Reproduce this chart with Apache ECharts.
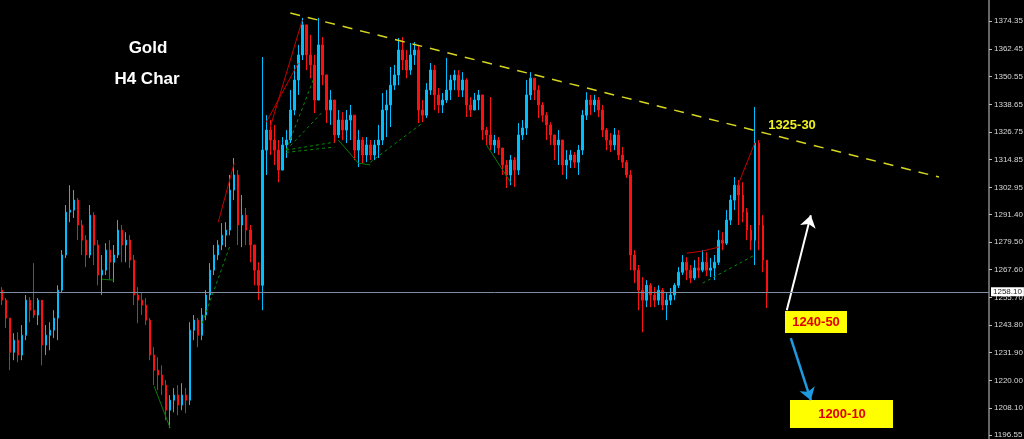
<!DOCTYPE html>
<html><head><meta charset="utf-8">
<script src="https://cdn.jsdelivr.net/npm/echarts@6/dist/echarts.min.js"></script>
<style>html,body{margin:0;padding:0;background:#000;}#c{width:1024px;height:439px;}</style>
</head><body><div id="c"></div>
<script>
// ---- data (Gold H4) ----
const firstOpen = 1258.8;
const closes = [
1254.5,1246.8,1232.1,1237.3,1230.9,1239.4,1254.5,1250.2,1248.1,1254.5,
1235.2,1239.4,1241.6,1246.8,1258.8,1273.9,1292.3,1293.2,1297.5,1286.8,
1280.3,1273.9,1291.0,1278.2,1265.3,1267.4,1276.0,1270.8,1273.9,1284.6,
1278.2,1280.3,1271.7,1256.7,1254.5,1252.4,1245.9,1230.9,1224.4,1222.3,
1218.0,1207.2,1211.5,1213.7,1209.4,1213.7,1211.5,1241.6,1245.9,1239.4,
1248.1,1256.7,1267.4,1273.9,1278.2,1282.4,1284.6,1301.8,1308.3,1286.8,
1291.0,1284.6,1278.2,1267.4,1260.9,1319.0,1327.6,1323.3,1319.0,1310.4,
1321.2,1323.3,1336.2,1349.1,1359.9,1372.8,1359.9,1355.6,1340.5,1364.2,
1351.3,1336.2,1340.5,1325.5,1331.9,1327.6,1331.9,1334.0,1319.0,1323.3,
1316.9,1321.2,1316.9,1321.2,1323.3,1336.2,1338.4,1346.9,1351.3,1362.0,
1357.7,1353.4,1359.9,1362.0,1336.2,1334.0,1344.8,1353.4,1342.7,1338.4,
1340.5,1344.8,1349.1,1351.3,1344.8,1349.1,1338.4,1336.2,1340.5,1342.7,
1327.6,1325.5,1321.2,1323.3,1319.9,1312.6,1308.3,1314.7,1310.4,1325.5,
1328.5,1342.7,1349.9,1344.8,1338.4,1334.0,1329.8,1325.5,1321.2,1323.3,
1312.6,1314.7,1316.9,1313.8,1319.0,1334.0,1340.5,1338.4,1340.5,1336.2,
1327.6,1323.3,1321.2,1325.5,1316.9,1313.8,1308.3,1273.9,1267.4,1258.8,
1254.5,1260.9,1256.7,1254.5,1258.8,1252.4,1254.5,1256.7,1260.9,1266.5,
1270.8,1267.4,1264.0,1268.3,1267.4,1270.8,1267.4,1268.3,1270.8,1280.3,
1279.0,1288.9,1297.5,1303.9,1299.7,1292.3,1284.6,1280.3,1322.0,1286.8,
1271.7,1258.1];
const highs = [
1260.1,1255.4,1245.9,1240.3,1240.7,1243.8,1256.7,1255.8,1270.4,1255.4,
1253.6,1243.8,1245.0,1250.2,1260.9,1276.0,1295.4,1303.9,1301.8,1298.4,
1288.9,1282.4,1295.4,1292.3,1280.3,1273.9,1279.0,1280.3,1278.2,1288.9,
1286.8,1283.7,1282.4,1273.9,1260.1,1257.5,1255.4,1246.8,1234.3,1230.0,
1226.5,1220.1,1213.7,1216.7,1218.0,1218.8,1216.7,1245.0,1248.1,1246.8,
1251.1,1258.8,1270.4,1278.2,1280.3,1287.6,1288.0,1308.3,1315.6,1310.4,
1299.7,1294.1,1286.8,1273.9,1270.8,1359.0,1334.0,1331.9,1329.8,1323.3,
1324.6,1327.6,1344.8,1355.6,1364.2,1375.8,1372.8,1368.5,1359.9,1375.8,
1367.6,1349.1,1344.8,1338.4,1336.2,1335.3,1336.2,1338.4,1334.0,1327.6,
1324.6,1324.6,1323.3,1323.3,1329.8,1343.5,1344.8,1354.7,1355.6,1367.2,
1367.6,1362.0,1365.0,1365.4,1364.2,1340.5,1347.8,1356.4,1355.6,1345.7,
1343.5,1358.6,1351.3,1353.4,1353.4,1352.5,1349.9,1341.8,1343.5,1344.8,
1341.8,1328.9,1341.8,1325.5,1324.6,1319.0,1314.7,1316.9,1316.0,1330.6,
1331.9,1349.1,1352.5,1349.9,1346.9,1339.6,1335.3,1331.0,1325.5,1327.6,
1321.2,1319.0,1319.0,1318.1,1321.2,1336.2,1343.9,1342.7,1342.7,1341.8,
1338.4,1328.5,1326.3,1328.5,1327.6,1320.3,1314.7,1310.4,1276.0,1269.6,
1264.4,1263.1,1261.8,1260.1,1260.9,1259.7,1257.5,1259.7,1261.8,1268.7,
1273.9,1273.0,1269.6,1271.7,1273.0,1276.0,1275.1,1272.6,1273.9,1284.6,
1283.7,1293.2,1299.7,1307.4,1306.1,1305.2,1294.1,1286.8,1337.5,1323.3,
1291.0,1265.3];
const lows = [
1252.4,1242.5,1224.4,1228.7,1227.8,1228.7,1237.3,1245.0,1246.8,1243.8,
1226.5,1230.9,1233.0,1238.2,1237.3,1257.9,1272.6,1288.0,1289.8,1280.3,
1273.9,1268.7,1272.6,1269.6,1260.9,1256.7,1265.3,1263.1,1262.2,1272.6,
1270.8,1270.8,1268.3,1252.4,1244.6,1248.1,1243.8,1228.7,1218.0,1215.8,
1213.7,1202.9,1199.5,1206.3,1205.0,1207.2,1205.9,1209.4,1237.3,1234.3,
1237.3,1245.9,1254.5,1265.3,1271.7,1276.0,1277.3,1282.4,1297.5,1278.2,
1277.3,1278.2,1270.8,1260.9,1254.5,1250.2,1308.3,1316.9,1312.6,1305.2,
1312.6,1315.6,1322.0,1334.0,1342.7,1357.7,1353.4,1349.9,1334.9,1344.8,
1346.9,1330.6,1329.8,1322.0,1324.2,1323.3,1322.0,1323.3,1314.7,1311.7,
1313.4,1313.8,1314.7,1314.7,1315.6,1321.2,1324.6,1328.9,1344.8,1346.9,
1353.4,1349.9,1351.3,1355.6,1330.6,1331.0,1332.8,1342.7,1336.2,1334.9,
1334.9,1339.2,1340.5,1344.8,1341.8,1341.8,1333.2,1333.2,1336.2,1336.2,
1323.3,1321.2,1319.0,1317.7,1316.9,1308.3,1302.7,1303.9,1303.1,1308.3,
1323.3,1325.5,1340.5,1340.5,1332.8,1331.0,1323.3,1321.2,1314.7,1312.6,
1308.3,1306.5,1311.3,1311.3,1308.3,1316.9,1331.9,1334.0,1335.3,1333.2,
1324.6,1319.0,1318.1,1319.0,1314.7,1311.3,1307.0,1267.4,1261.8,1250.2,
1240.7,1251.5,1251.5,1251.5,1252.4,1250.2,1245.9,1252.4,1254.5,1259.7,
1265.3,1263.1,1261.8,1263.1,1264.0,1266.5,1264.8,1264.4,1263.1,1269.6,
1276.0,1278.2,1286.8,1293.2,1286.8,1288.0,1280.3,1276.0,1269.6,1276.0,
1266.5,1251.1];
const yTicks = [1374.35,1362.45,1350.55,1338.65,1326.75,1314.85,1302.95,1291.40,
                1279.50,1267.60,1255.70,1243.80,1231.90,1220.00,1208.10,1196.55];
const lastPrice = 1258.10;
const totalBars = 247;              // bars incl. empty space to the right
const trendLine = [[72, 1377.9], [234, 1307.4]];
const redZigzag = [
  [[54, 1288.0], [58, 1313.4]],
  [[67, 1328.9], [75, 1374.9]],
  [[66, 1331.0], [74, 1356.4]],
  [[171, 1274.7], [175, 1275.6], [179, 1277.3]],
  [[184, 1304.8], [188, 1322.0]]
];
const greenDashed = [
  [[50, 1244.6], [57, 1278.2]],
  [[71, 1319.0], [78, 1350.4]],
  [[71, 1319.0], [80, 1335.3]],
  [[71, 1319.0], [83, 1322.4]],
  [[71, 1318.0], [83, 1320.3]],
  [[92, 1313.8], [105, 1330.6]],
  [[175, 1261.8], [188, 1273.9]]
];
const greenSolid = [
  [[84, 1323.3], [89, 1313.4], [92, 1312.6]],
  [[121, 1321.2], [127, 1305.2]],
  [[38, 1217.5], [42, 1199.5]],
  [[25, 1263.5], [28, 1263.1]]
];
const upArrow = [[196, 1250.2], [202, 1291.0]];
const downArrow = [[197, 1238.2], [202, 1211.5]];

// ---- build ----
const categories = Array.from({length: totalBars}, (_, i) => String(i));
const ohlc = closes.map((c, i) => {
  const o = i === 0 ? firstOpen : closes[i - 1];
  return [o, c, Math.min(lows[i], o, c), Math.max(highs[i], o, c)];
});
const lineSeries = (pts, color, type, width) => ({
  type: 'line', data: pts, symbol: 'none', silent: true, z: 3,
  lineStyle: {color: color, width: width, type: type}
});
const series = [{
  type: 'candlestick', data: ohlc, barWidth: 2, z: 2,
  itemStyle: {color: '#00BFFF', color0: '#FF1010', borderColor: '#00BFFF', borderColor0: '#FF1010', borderWidth: 1},
  markLine: {
    silent: true, symbol: 'none', animation: false, z: 10,
    lineStyle: {color: '#7d8ea3', width: 1, type: 'solid'},
    label: {position: 'end', formatter: lastPrice.toFixed(2), backgroundColor: '#ffffff', color: '#222',
            fontSize: 8, fontFamily: 'Liberation Sans', padding: [1, 2, 0, 2], distance: 2},
    data: [{yAxis: lastPrice}]
  }
}];
redZigzag.forEach(p => series.push(lineSeries(p, '#c80000', 'solid', 1)));
greenDashed.forEach(p => series.push(lineSeries(p, '#0a8a0a', [3, 3], 1)));
greenSolid.forEach(p => series.push(lineSeries(p, '#0a7a0a', 'solid', 1)));
series.push({
  type: 'line', data: trendLine, symbol: 'none', silent: true, z: 4,
  lineStyle: {color: '#d6d620', width: 1.5, type: [10, 8]}
});
const arrowSeries = (pts, color, width) => ({
  type: 'line', data: [], silent: true, z: 5,
  markLine: {
    silent: true, animation: false, symbol: ['none', 'arrow'], symbolSize: 12,
    label: {show: false},
    lineStyle: {color: color, width: width, type: 'solid'},
    itemStyle: {color: color},
    data: [[{coord: pts[0], symbol: 'none'}, {coord: pts[1], symbol: 'arrow', symbolSize: 12}]]
  }
});
series.push(arrowSeries(upArrow, '#ffffff', 2));
series.push(arrowSeries(downArrow, '#1e9be0', 2.5));

const chart = echarts.init(document.getElementById('c'), null, {renderer: 'canvas'});
chart.setOption({
  backgroundColor: '#000000',
  animation: false,
  grid: {left: 0, right: 35, top: 0, bottom: 0, outerBoundsMode: 'none', containLabel: false},
  xAxis: {type: 'category', data: categories, boundaryGap: true, show: false},
  yAxis: {
    type: 'value', position: 'right', min: 1194.83, max: 1383.5, scale: true,
    splitLine: {show: false},
    axisLine: {show: true, lineStyle: {color: '#8a8a8a', width: 1.5}},
    axisTick: {show: true, length: 3, customValues: yTicks, lineStyle: {color: '#bbbbbb'}},
    axisLabel: {customValues: yTicks, color: '#d8d8d8', fontSize: 8, fontFamily: 'Liberation Sans', margin: 5,
                formatter: v => v.toFixed(2)}
  },
  graphic: [
    {type: 'text', x: 148, y: 48, style: {text: 'Gold', fill: '#ffffff', font: 'bold 17px "Liberation Sans"', align: 'center', verticalAlign: 'middle'}},
    {type: 'text', x: 147, y: 79, style: {text: 'H4 Char', fill: '#ffffff', font: 'bold 17px "Liberation Sans"', align: 'center', verticalAlign: 'middle'}},
    {type: 'text', x: 792, y: 125, style: {text: '1325-30', fill: '#f0f020', font: 'bold 13px "Liberation Sans"', align: 'center', verticalAlign: 'middle'}},
    {type: 'rect', shape: {x: 785, y: 311, width: 62, height: 22}, style: {fill: '#ffff00'}},
    {type: 'text', x: 816, y: 322, style: {text: '1240-50', fill: '#e00000', font: 'bold 13px "Liberation Sans"', align: 'center', verticalAlign: 'middle'}},
    {type: 'rect', shape: {x: 790, y: 400, width: 103, height: 28}, style: {fill: '#ffff00'}},
    {type: 'text', x: 842, y: 414, style: {text: '1200-10', fill: '#e00000', font: 'bold 13px "Liberation Sans"', align: 'center', verticalAlign: 'middle'}}
  ],
  series: series
});
</script>
</body></html>
